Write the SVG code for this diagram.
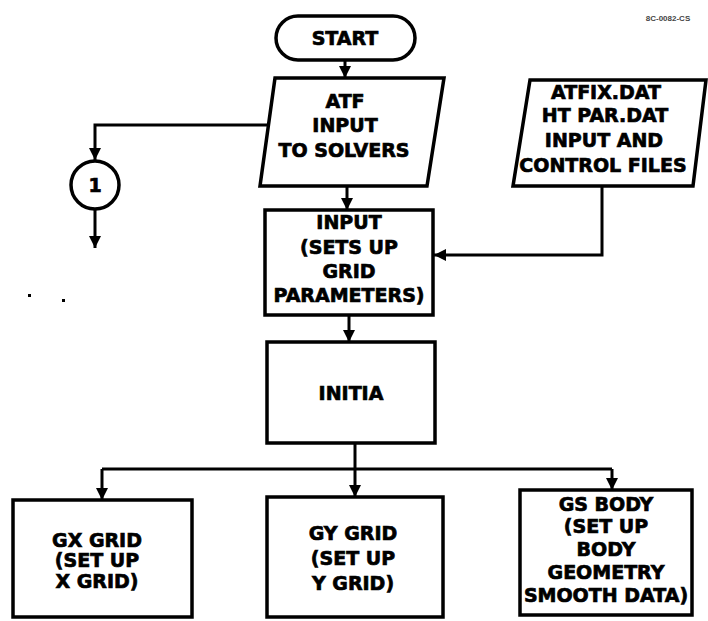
<svg xmlns="http://www.w3.org/2000/svg" width="708" height="621" viewBox="0 0 708 621">
<style>
.s{fill:#fff;stroke:#000;stroke-width:3.5;stroke-linejoin:miter}
.c{fill:none;stroke:#000;stroke-width:3}
.t{font-family:"DejaVu Sans","Liberation Sans",sans-serif;font-weight:bold;font-size:19px;text-anchor:middle;fill:#000;stroke:#000;stroke-width:0.7}
</style>
<defs>
<marker id="ah" markerUnits="userSpaceOnUse" markerWidth="14" markerHeight="14" refX="12" refY="6" orient="auto">
<path d="M0,0 L12,6 L0,12 z" fill="#000"/>
</marker>
</defs>
<rect width="708" height="621" fill="#fff"/>
<g id="connectors">
<line class="c" x1="345" y1="60" x2="345" y2="78" marker-end="url(#ah)"/>
<polyline class="c" points="267,125 95,125 95,160" marker-end="url(#ah)"/>
<line class="c" x1="95" y1="210" x2="95" y2="248" marker-end="url(#ah)"/>
<line class="c" x1="347" y1="186" x2="347" y2="210" marker-end="url(#ah)"/>
<polyline class="c" points="602,186 602,255 434,255" marker-end="url(#ah)"/>
<line class="c" x1="349" y1="315" x2="349" y2="342" marker-end="url(#ah)"/>
<line class="c" x1="355" y1="443" x2="355" y2="497" marker-end="url(#ah)"/>
<line class="c" x1="102" y1="469" x2="612" y2="469"/>
<line class="c" x1="102" y1="469" x2="102" y2="500" marker-end="url(#ah)"/>
<line class="c" x1="612" y1="469" x2="612" y2="490" marker-end="url(#ah)"/>
</g>
<g id="start">
<rect class="s" x="276" y="16" width="139" height="44" rx="22"/>
<text class="t" x="345" y="45">START</text>
</g>
<g id="atf">
<polygon class="s" points="275,78 444,78 427,186 260,186"/>
<text class="t" x="345" y="108">ATF</text>
<text class="t" x="345" y="132">INPUT</text>
<text class="t" x="344" y="157">TO SOLVERS</text>
</g>
<g id="files">
<polygon class="s" points="530,80 706,80 693,186 513,186"/>
<text class="t" x="606" y="99">ATFIX.DAT</text>
<text class="t" x="605" y="122">HT PAR.DAT</text>
<text class="t" x="604" y="147">INPUT AND</text>
<text class="t" x="603" y="172">CONTROL FILES</text>
</g>
<g id="connector1">
<circle class="s" cx="95" cy="185" r="24"/>
<text class="t" x="95" y="192">1</text>
</g>
<g id="input">
<rect class="s" x="265" y="210" width="168" height="105"/>
<text class="t" x="349" y="229">INPUT</text>
<text class="t" x="349" y="254">(SETS UP</text>
<text class="t" x="349" y="278">GRID</text>
<text class="t" x="349" y="302">PARAMETERS)</text>
</g>
<g id="initia">
<rect class="s" x="267" y="342" width="168" height="101"/>
<text class="t" x="351" y="400">INITIA</text>
</g>
<g id="gx">
<rect class="s" x="13" y="500" width="179" height="117"/>
<text class="t" x="97" y="547">GX GRID</text>
<text class="t" x="97" y="567">(SET UP</text>
<text class="t" x="97" y="588">X GRID)</text>
</g>
<g id="gy">
<rect class="s" x="267" y="497" width="176" height="120"/>
<text class="t" x="353" y="540">GY GRID</text>
<text class="t" x="353" y="565">(SET UP</text>
<text class="t" x="353" y="590">Y GRID)</text>
</g>
<g id="gs">
<rect class="s" x="520" y="490" width="172" height="125"/>
<text class="t" x="606" y="511">GS BODY</text>
<text class="t" x="606" y="533">(SET UP</text>
<text class="t" x="606" y="556">BODY</text>
<text class="t" x="606" y="579">GEOMETRY</text>
<text class="t" x="606" y="602">SMOOTH DATA)</text>
</g>
<text x="668" y="21" font-family="Liberation Sans, sans-serif" font-weight="bold" font-size="8" text-anchor="middle" fill="#444">8C-0082-CS</text>
<rect x="28" y="294" width="3" height="3" fill="#000"/>
<rect x="62" y="299" width="3" height="3" fill="#000"/>
</svg>
